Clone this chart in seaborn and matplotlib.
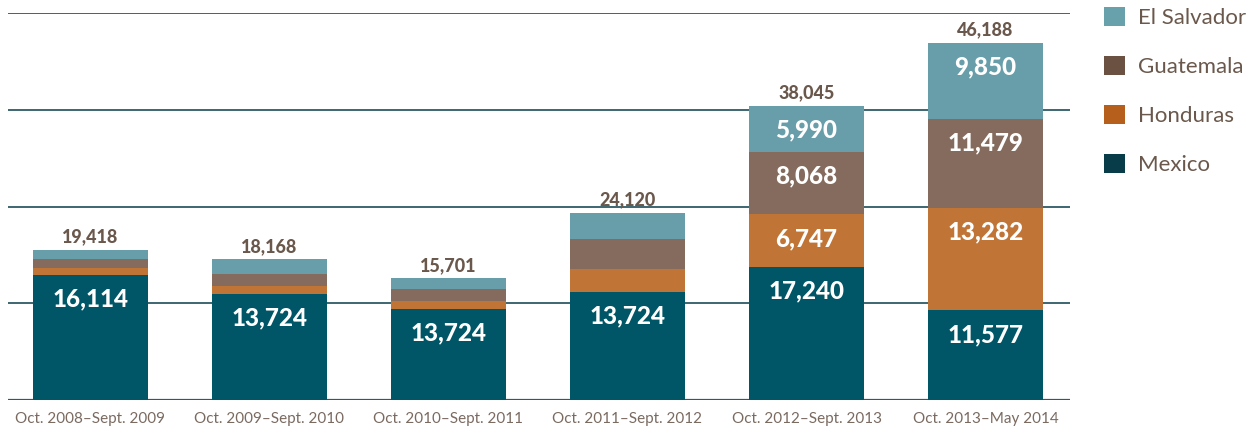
import pandas as pd
import seaborn as sns
import matplotlib.pyplot as plt
from matplotlib.patches import Patch

# Datos del gráfico
periodos = ['Oct. 2008–Sept. 2009', 'Oct. 2009–Sept. 2010', 'Oct. 2010–Sept. 2011',
            'Oct. 2011–Sept. 2012', 'Oct. 2012–Sept. 2013', 'Oct. 2013–May 2014']
mexico = [16114, 13724, 11768, 13974, 17240, 11577]
honduras = [968, 1017, 974, 2997, 6747, 13282]
guatemala = [1115, 1517, 1565, 3835, 8068, 11479]
el_salvador = [1221, 1910, 1394, 3314, 5990, 9850]
totales = [19418, 18168, 15701, 24120, 38045, 46188]

# etiquetas tal como aparecen en la figura
etq_mexico = ['16,114', '13,724', '13,724', '13,724', '17,240', '11,577']
etq_honduras = ['', '', '', '', '6,747', '13,282']
etq_guatemala = ['', '', '', '', '8,068', '11,479']
etq_salvador = ['', '', '', '', '5,990', '9,850']

paises = ['El Salvador', 'Guatemala', 'Honduras', 'Mexico']
colores_barra = {'Mexico': '#005666', 'Honduras': '#c07536',
                 'Guatemala': '#846b5d', 'El Salvador': '#689eaa'}
colores_leyenda = {'Mexico': '#083c48', 'Honduras': '#b65e1c',
                   'Guatemala': '#6b5142', 'El Salvador': '#68a0ab'}
texto_cafe = '#6b584c'

# acumulados para apilar
df = pd.DataFrame({'periodo': periodos, 'Mexico': mexico, 'Honduras': honduras,
                   'Guatemala': guatemala, 'El Salvador': el_salvador})
df['cum_mex'] = df['Mexico']
df['cum_hon'] = df['cum_mex'] + df['Honduras']
df['cum_gua'] = df['cum_hon'] + df['Guatemala']
df['cum_sal'] = df['cum_gua'] + df['El Salvador']

fig = plt.figure(figsize=(12.52, 4.36), dpi=100)
ax = fig.add_axes([0.0064, 0.0826, 0.848, 0.8874])

ancho = 0.645
for col, pais in [('cum_sal', 'El Salvador'), ('cum_gua', 'Guatemala'),
                  ('cum_hon', 'Honduras'), ('cum_mex', 'Mexico')]:
    sns.barplot(data=df, x='periodo', y=col, color=colores_barra[pais],
                width=ancho, saturation=1, ax=ax, zorder=3, linewidth=0)

ax.set_ylim(0, 50000)
ax.set_xlim(-0.46, 5.47)
for y in [12500, 25000, 37500, 50000]:
    ax.axhline(y, color='#2d5a66', lw=1.3, zorder=1)
ax.axhline(0, color='#2d5a66', lw=1.6, zorder=1)

for s in ax.spines.values():
    s.set_visible(False)
ax.set_yticks([])
ax.set_xlabel('')
ax.set_ylabel('')
ax.tick_params(axis='x', length=0, pad=9, labelsize=11, labelcolor='#7a6a60')
for t in ax.get_xticklabels():
    t.set_fontfamily('Lato')

desplaz = 3100
num_font = dict(family='Lato', weight='black', color='white', fontsize=17.5,
                ha='center', va='center', zorder=5)
for i in range(len(periodos)):
    for etq, tope in [(etq_mexico[i], df['cum_mex'][i]), (etq_honduras[i], df['cum_hon'][i]),
                      (etq_guatemala[i], df['cum_gua'][i]), (etq_salvador[i], df['cum_sal'][i])]:
        if etq:
            ax.text(i, tope - desplaz, etq, **num_font)
    ax.text(i, totales[i] + 1700, f'{totales[i]:,}', ha='center', va='center',
            fontsize=13, fontweight='black', color=texto_cafe, family='Lato')

manijas = [Patch(facecolor=colores_leyenda[p], edgecolor='none') for p in paises]
leg = fig.legend(manijas, paises, loc='upper left', bbox_to_anchor=(0.866, 1.03),
                 frameon=False, handlelength=0.95, handleheight=0.95, handletextpad=0.55,
                 labelspacing=1.25, prop={'family': 'Lato', 'size': 16})
for t in leg.get_texts():
    t.set_color('#6b584c')

plt.savefig('out.png', dpi=100)
